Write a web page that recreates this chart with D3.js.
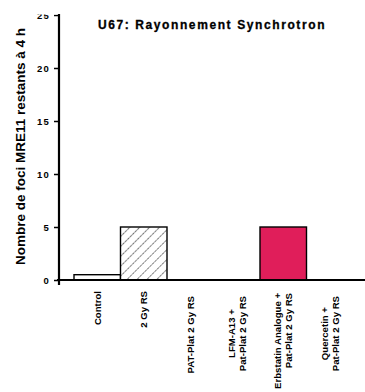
<!DOCTYPE html>
<html>
<head>
<meta charset="utf-8">
<script src="https://cdn.jsdelivr.net/npm/d3@7"></script>
<style>
  html, body { margin: 0; padding: 0; background: #fff; }
  svg { display: block; }
  text { font-family: "Liberation Sans", Arial, sans-serif; fill: #000; }
</style>
</head>
<body>
<svg id="chart" width="365" height="392"></svg>
<script>
// Treatment groups (each entry is one label line) and mean foci counts
const categories = [
  ["Control"],
  ["2 Gy RS"],
  ["PAT-Plat 2 Gy RS"],
  ["LFM-A13 +", "Pat-Plat 2 Gy RS"],
  ["Erbstatin Analogue +", "Pat-Plat 2 Gy RS"],
  ["Quercetin +", "Pat-Plat 2 Gy RS"]
];
const fociValues = [0.5, 5.0, 0, 0, 5.0, 0];
const yTicks = [0, 5, 10, 15, 20, 25];
const title = "U67: Rayonnement Synchrotron";
const yTitle = "Nombre de foci MRE11 restants à 4 h";

const keys = categories.map(c => c.join(" "));
const fills = ["#ffffff", "url(#hatch)", "#ffffff", "#ffffff", "#e01e5a", "#ffffff"];

const svg = d3.select("#chart");

// diagonal hatch for the irradiated-only group
const defs = svg.append("defs");
const pat = defs.append("pattern")
  .attr("id", "hatch")
  .attr("patternUnits", "userSpaceOnUse")
  .attr("width", 7).attr("height", 7)
  .attr("patternTransform", "rotate(45)");
pat.append("rect").attr("width", 7).attr("height", 7).attr("fill", "#fff");
pat.append("line")
  .attr("x1", 0).attr("y1", 0).attr("x2", 0).attr("y2", 7)
  .attr("stroke", "#1a1a1a").attr("stroke-width", 1.2)
  .attr("stroke-dasharray", "2.5,0.8");

// the top of the axis is trimmed just above the last tick
defs.append("clipPath").attr("id", "axisClip")
  .append("rect").attr("x", -70).attr("y", 14.5).attr("width", 80).attr("height", 380);

const x = d3.scaleBand().domain(keys).range([74, 353]).padding(0);
const y = d3.scaleLinear().domain([0, 25]).range([280, 15]);

// bars
svg.append("g").selectAll("rect")
  .data(fociValues)
  .join("rect")
  .attr("x", (d, i) => x(keys[i]))
  .attr("y", d => y(d))
  .attr("width", x.bandwidth())
  .attr("height", d => y(0) - y(d))
  .attr("fill", (d, i) => fills[i])
  .attr("stroke", "#000")
  .attr("stroke-width", 1.4)
  .style("display", d => d > 0 ? null : "none");

// y axis
const yAxis = svg.append("g")
  .attr("transform", "translate(59,0)")
  .attr("clip-path", "url(#axisClip)")
  .call(d3.axisLeft(y).tickValues(yTicks).tickSize(5).tickSizeOuter(0).tickPadding(4));
yAxis.select(".domain").remove();
yAxis.selectAll(".tick line").attr("stroke", "#000").attr("stroke-width", 1.6);
yAxis.selectAll(".tick text")
  .style("font-family", "'Liberation Sans', Arial, sans-serif")
  .style("font-size", "9.5px")
  .style("font-weight", "bold")
  .style("letter-spacing", "1.2px");

svg.append("line")
  .attr("x1", 59).attr("x2", 59)
  .attr("y1", y(25) - 1).attr("y2", y(0) + 5)
  .attr("stroke", "#000").attr("stroke-width", 2.2);

// x axis baseline
svg.append("line")
  .attr("x1", 57).attr("x2", 365)
  .attr("y1", y(0)).attr("y2", y(0))
  .attr("stroke", "#000").attr("stroke-width", 2.2);

// category labels, rotated to read upwards
const centredFirst = new Set(["LFM-A13 +", "Quercetin +"]);
const lineGap = 11;
const labels = svg.append("g");
categories.forEach((lines, i) => {
  const cx = x(keys[i]) + x.bandwidth() / 2;
  const top = lines.length === 1 ? (i < 2 ? 291 : 296) : (i === 4 ? 293 : 296);
  const g = labels.append("g").attr("transform", `translate(${cx},${top}) rotate(-90)`);
  const n = lines.length;
  const texts = lines.map((ln, j) => g.append("text")
    .attr("x", 0)
    .attr("y", (j - (n - 1) / 2) * lineGap)
    .attr("dy", "0.35em")
    .attr("text-anchor", "end")
    .style("font-size", "9.6px")
    .style("font-weight", "bold")
    .text(ln));
  if (n > 1 && centredFirst.has(lines[0])) {
    const longW = texts[1].node().getComputedTextLength();
    texts[0].attr("text-anchor", "middle").attr("x", -longW / 2);
  }
});

// title
svg.append("text")
  .attr("x", 212).attr("y", 29)
  .attr("text-anchor", "middle")
  .style("font-size", "12px")
  .style("font-weight", "bold")
  .style("letter-spacing", "1.6px")
  .style("stroke", "#000")
  .style("stroke-width", "0.3px")
  .text(title);

// y axis title
svg.append("text")
  .attr("transform", `translate(25,146.5) rotate(-90)`)
  .attr("text-anchor", "middle")
  .style("font-size", "13.5px")
  .style("font-weight", "bold")
  .text(yTitle);
</script>
</body>
</html>
